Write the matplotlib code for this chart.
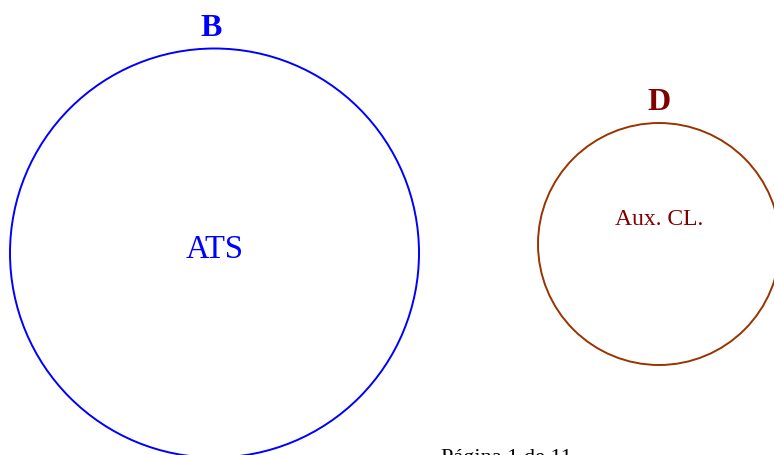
import matplotlib
matplotlib.use("Agg")
import matplotlib.pyplot as plt
from matplotlib.patches import Circle

# Data
groups = ["B", "D"]
labels = ["ATS", "Aux. CL."]
radii = [204.5, 121]
footer = "Página 1 de 11"

# Layout / style
centers = [(214.5, 253), (659, 244)]
edge_colors = ["#0000FF", "#993300"]
text_colors = ["#0000FF", "#800000"]
head_colors = ["#0000FF", "#800000"]
label_sizes = [23.5, 17]
label_baselines = [258, 225]
head_baselines = [36, 110]
head_dx = [-3, 0]

plt.rcParams['font.family'] = ['Liberation Serif', 'DejaVu Serif']

fig = plt.figure(figsize=(7.74, 4.55), dpi=100)
ax = fig.add_axes([0, 0, 1, 1])
ax.set_xlim(0, 774)
ax.set_ylim(455, 0)
ax.set_aspect('equal')
ax.axis('off')

for g, lab, r, c, ec, tc, hc, ls, lb, hb, dx in zip(groups, labels, radii, centers, edge_colors,
                                                     text_colors, head_colors, label_sizes,
                                                     label_baselines, head_baselines, head_dx):
    ax.add_patch(Circle(c, r, fill=False, edgecolor=ec, linewidth=1.4))
    ax.text(c[0], lb, lab, color=tc, fontsize=ls, ha='center', va='baseline')
    ax.text(c[0] + dx, hb, g, color=hc, fontsize=23, fontweight='bold',
            ha='center', va='baseline')

ax.text(441, 463, footer, fontsize=16, ha='left', va='baseline', color='black')

fig.savefig("out.png", dpi=100)
